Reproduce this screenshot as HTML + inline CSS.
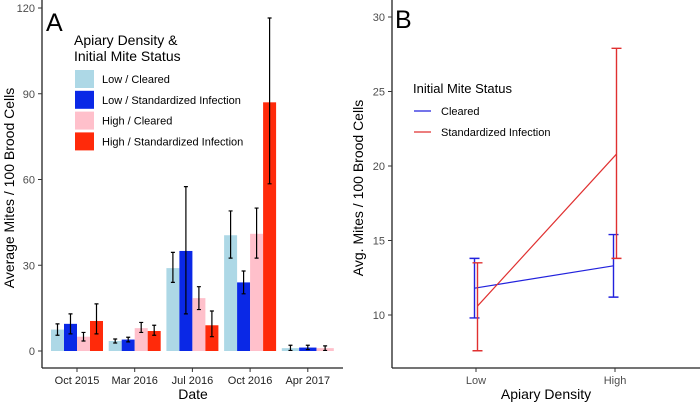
<!DOCTYPE html>
<html><head><meta charset="utf-8"><style>
body{margin:0;background:#fff;width:700px;height:404px;overflow:hidden}
svg{font-family:"Liberation Sans",sans-serif}
</style></head><body>
<svg id="c" width="700" height="404"></svg>
<script>
const categories=["Oct 2015","Mar 2016","Jul 2016","Oct 2016","Apr 2017"];
const seriesNames=["Low  / Cleared","Low  / Standardized Infection","High / Cleared","High / Standardized Infection"];
const seriesColors=["#add8e6","#0a28e6","#ffc0cb","#ff2a0a"];
const lowCleared=[7.5,3.5,29,40.5,1];
const lowCleredLo=[5.5,2.8,24,32.5,0.2];
const lowClearedHi=[9.5,4.2,34.5,49,2];
const lowInf=[9.5,4,35,24,1.2];
const lowInfLo=[6,3.2,13,20,0.5];
const lowInfHi=[13,4.8,57.5,28,2];
const highCleared=[5,8,18.5,41,1];
const highClearedLo=[3.5,6.5,14.5,32.5,0.2];
const highClearedHi=[6.5,10,22.5,50,1.8];
const highInf=[10.5,7,9,87,null];
const highInfLo=[6,5.5,5,58.5,null];
const highInfHi=[16.5,9,14,116.5,null];
const yTicksA=[0,30,60,90,120];
const densities=["Low","High"];
const clearedB=[11.8,13.3],clearedBLo=[9.8,11.2],clearedBHi=[13.8,15.4];
const infB=[10.6,20.8],infBLo=[7.6,13.8],infBHi=[13.5,27.9];
const yTicksB=[10,15,20,25,30];

const svg=document.getElementById('c');const NS="http://www.w3.org/2000/svg";
function mk(t,a,txt){const e=document.createElementNS(NS,t);for(const k in a)e.setAttribute(k,a[k]);if(txt!=null)e.textContent=txt;svg.appendChild(e);return e;}
// Panel A
const yA=v=>351-v*(343/120);const xA=i=>77+i*57.7;
let e=mk('line',{x1:42,y1:0,x2:42,y2:368,stroke:'#222','stroke-width':1.3});

e=mk('line',{x1:42,y1:368,x2:343,y2:368,stroke:'#222','stroke-width':1.3});

yTicksA.forEach(t=>{let l=mk('line',{x1:38,x2:42,y1:yA(t),y2:yA(t),stroke:'#333'});
let tx=mk('text',{x:35,y:yA(t)+4,'text-anchor':'end','font-size':11,fill:'#4d4d4d'},t);});
const S=[[lowCleared,lowCleredLo,lowClearedHi],[lowInf,lowInfLo,lowInfHi],[highCleared,highClearedLo,highClearedHi],[highInf,highInfLo,highInfHi]];
categories.forEach((c,i)=>{
 const idx=S.map((s,j)=>s[0][i]!=null?j:-1).filter(j=>j>=0);const gw=52,bw=gw/idx.length;
 idx.forEach((j,k)=>{const x=xA(i)-gw/2+k*bw;const v=S[j][0][i];
  let r=mk('rect',{x:x,y:yA(v),width:bw,height:yA(0)-yA(v),fill:seriesColors[j]});
  const cx=x+bw/2;let eb=mk('path',{d:`M${cx-2},${yA(S[j][2][i])}H${cx+2}M${cx},${yA(S[j][2][i])}V${yA(S[j][1][i])}M${cx-2},${yA(S[j][1][i])}H${cx+2}`,stroke:'#000','stroke-width':1.2,fill:'none'});
  });
 let l=mk('line',{x1:xA(i),x2:xA(i),y1:368,y2:372,stroke:'#333'});
 let t=mk('text',{x:xA(i),y:384,'text-anchor':'middle','font-size':11,fill:'#222'},c);
});
e=mk('text',{x:193,y:399,'text-anchor':'middle','font-size':14,fill:'#000'},'Date');
e=mk('text',{x:0,y:0,transform:'translate(14,188) rotate(-90)','text-anchor':'middle','font-size':14,fill:'#000'},'Average Mites / 100 Brood Cells');
e=mk('text',{x:46,y:31,'font-size':25,fill:'#000'},'A');
e=mk('text',{x:74,y:45,'font-size':14,fill:'#000'},'Apiary Density &');
e=mk('text',{x:74,y:61,'font-size':14,fill:'#000'},'Initial Mite Status');
seriesNames.forEach((n,j)=>{const y=70+j*20.8;
 let r=mk('rect',{x:75,y:y,width:19,height:18,fill:seriesColors[j]});
 let t=mk('text',{x:102,y:y+13,'font-size':11,fill:'#000','xml:space':'preserve'},n);});
// Panel B
const yB=v=>315-(v-10)*14.9;const xB=i=>476+i*139;
e=mk('line',{x1:392,y1:0,x2:392,y2:368,stroke:'#222','stroke-width':1.3});
e=mk('line',{x1:392,y1:368,x2:700,y2:368,stroke:'#222','stroke-width':1.3});
yTicksB.forEach(t=>{let l=mk('line',{x1:388,x2:392,y1:yB(t),y2:yB(t),stroke:'#333'});
let tx=mk('text',{x:385,y:yB(t)+4,'text-anchor':'end','font-size':11,fill:'#4d4d4d'},t);});
densities.forEach((d,i)=>{let l=mk('line',{x1:xB(i),x2:xB(i),y1:368,y2:372,stroke:'#333'});
let t=mk('text',{x:xB(i),y:384,'text-anchor':'middle','font-size':11,fill:'#4d4d4d'},d);});
[[clearedB,clearedBLo,clearedBHi,'#2222dd',-1.5,'cleared'],[infB,infBLo,infBHi,'#e03030',1.5,'infection']].forEach(([v,lo,hi,col,dx,nm])=>{
 let p=mk('polyline',{points:v.map((y,i)=>`${xB(i)+dx},${yB(y)}`).join(' '),stroke:col,'stroke-width':1.2,fill:'none'});
 v.forEach((y,i)=>{const cx=xB(i)+dx;let eb=mk('path',{d:`M${cx-5},${yB(hi[i])}H${cx+5}M${cx},${yB(hi[i])}V${yB(lo[i])}M${cx-5},${yB(lo[i])}H${cx+5}`,stroke:col,'stroke-width':1.4,fill:'none'});});
});
e=mk('text',{x:546,y:399,'text-anchor':'middle','font-size':14,fill:'#000'},'Apiary Density');
e=mk('text',{x:0,y:0,transform:'translate(363,188) rotate(-90)','text-anchor':'middle','font-size':14,fill:'#000'},'Avg. Mites / 100 Brood Cells');
e=mk('text',{x:395,y:28,'font-size':25,fill:'#000'},'B');
e=mk('text',{x:413,y:93,'font-size':13,fill:'#000'},'Initial Mite Status');
[['Cleared','#2222dd',111],['Standardized Infection','#e03030',132]].forEach(([n,c,y])=>{let l=mk('line',{x1:414,x2:431,y1:y,y2:y,stroke:c,'stroke-width':1.3});
let t=mk('text',{x:441,y:y+4,'font-size':11,fill:'#000'},n);});
</script>
</body></html>
